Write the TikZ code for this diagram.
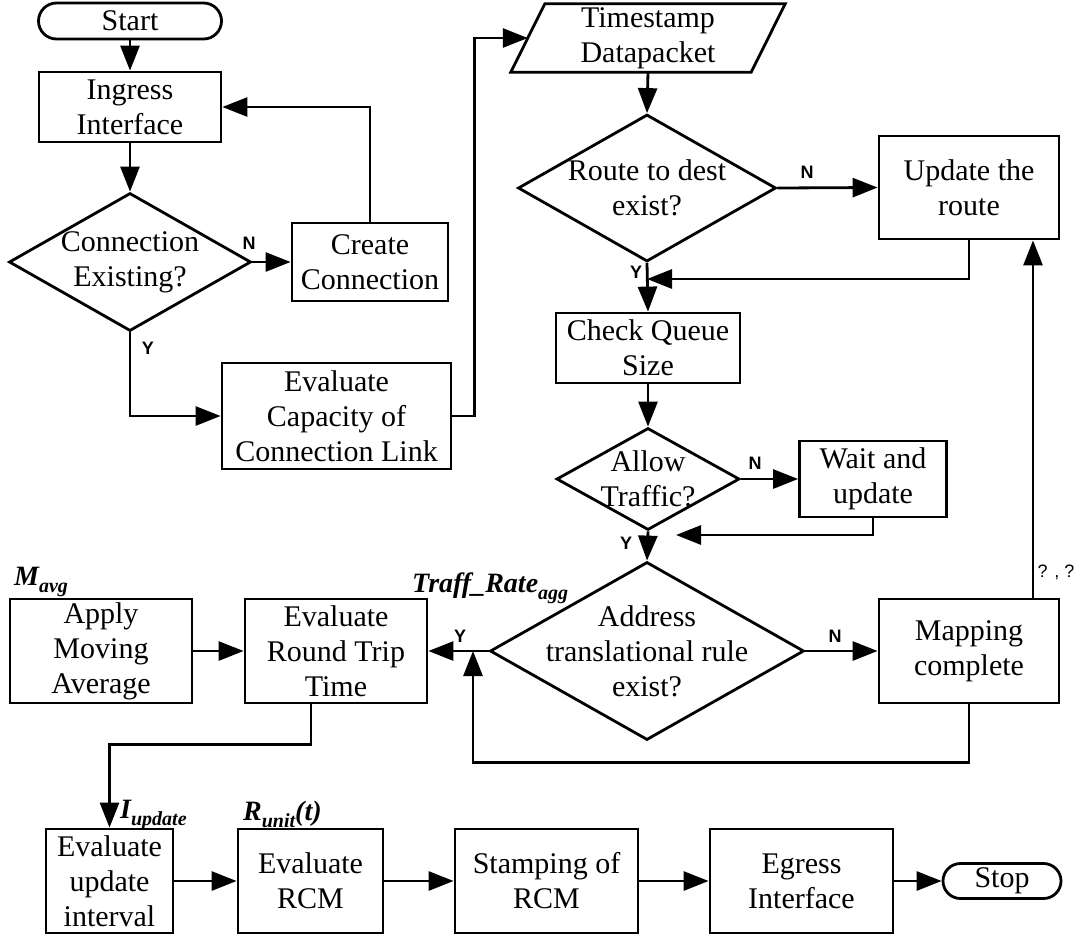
\documentclass[tikz,border=0pt]{standalone}
\usepackage{fontspec}
\setmainfont{Liberation Serif}
\newfontfamily\sansf{Liberation Sans}
\usetikzlibrary{shapes.geometric,arrows.meta}
\newcommand\mainfs{\fontsize{30}{35}\selectfont}
\newcommand\ynfs{\sansf\bfseries\fontsize{18}{19}\selectfont}
\newcommand\qfs{\sansf\fontsize{18}{19}\selectfont}
\newcommand\labfs{\bfseries\itshape\fontsize{28}{30}\selectfont}
\newcommand\sublab[1]{\raisebox{-0.25em}{\fontsize{20}{20}\selectfont #1}}
\tikzset{
  box/.style={draw, line width=2.8pt, rectangle, inner sep=0pt, align=center, font=\mainfs},
  dia/.style={draw, line width=2.8pt, diamond, inner sep=0pt},
  txt/.style={align=center, font=\mainfs, inner sep=0pt},
  arr/.style={line width=2.8pt, -{Triangle[length=25pt,width=19pt]}},
  ln/.style={line width=2.8pt},
  yn/.style={font=\ynfs, inner sep=0pt},
  lab/.style={font=\labfs, anchor=base west, inner sep=0pt}
}
\begin{document}
\begin{tikzpicture}[x=1pt, y=-1pt, line join=miter]
\useasboundingbox (0,0) rectangle (1082,938);
% left column
\node[box, minimum width=183pt, minimum height=36pt, rounded corners=18pt] (start) at (130,21) {Start};
\node[box, minimum width=182pt, minimum height=70pt] (ingress) at (130,107) {Ingress\\Interface};
\node[dia, minimum width=242pt, minimum height=138pt] (conn) at (130,262) {};
\node[txt] (conntxt) at (conn) {Connection\\Existing?};
\node[box, minimum width=156pt, minimum height=78pt] (create) at (370,262) {Create\\Connection};
\node[box, minimum width=229pt, minimum height=106pt] (evalcap) at (336.5,416) {Evaluate\\Capacity of\\Connection Link};
% right column
\node[minimum width=240pt, minimum height=68pt, inner sep=0pt] (ts) at (648,38) {};
\draw[ln] ([xshift=17pt]ts.north west) -- ([xshift=17pt]ts.north east) -- ([xshift=-17pt]ts.south east) -- ([xshift=-17pt]ts.south west) -- cycle;
\node[txt] (tstxt) at (ts) {Timestamp\\Datapacket};
\node[dia, minimum width=258pt, minimum height=147pt] (route) at (647,188) {};
\node[txt] (routetxt) at (route) {Route to dest\\exist?};
\node[box, minimum width=180pt, minimum height=103pt] (update) at (969,187.5) {Update the\\route};
\node[box, minimum width=184pt, minimum height=70pt] (check) at (648,348) {Check Queue\\Size};
\node[dia, minimum width=183pt, minimum height=102pt] (allow) at (648,479) {};
\node[txt] (allowtxt) at (allow) {Allow\\Traffic?};
\node[box, minimum width=147pt, minimum height=76pt] (wait) at (873,479) {Wait and\\update};
\node[dia, minimum width=314pt, minimum height=178pt] (addr) at (647,651) {};
\node[txt] (addrtxt) at (addr) {Address\\translational rule\\exist?};
\node[box, minimum width=180pt, minimum height=104pt] (map) at (969,651) {Mapping\\complete};
% middle row left
\node[box, minimum width=182pt, minimum height=104pt] (apply) at (101,651) {Apply\\Moving\\Average};
\node[box, minimum width=182pt, minimum height=104pt] (rtt) at (336,651) {Evaluate\\Round Trip\\Time};
% bottom row
\node[box, minimum width=127pt, minimum height=104pt] (evalint) at (109.5,881) {Evaluate\\update\\interval};
\node[box, minimum width=145pt, minimum height=104pt] (rcm) at (310.5,881) {Evaluate\\RCM};
\node[box, minimum width=183pt, minimum height=104pt] (stamp) at (546.5,881) {Stamping of\\RCM};
\node[box, minimum width=183pt, minimum height=104pt] (egress) at (801.5,881) {Egress\\Interface};
\node[box, minimum width=118pt, minimum height=35pt, rounded corners=17.5pt] (stop) at (1002,881) {Stop};
% junction coordinates
\coordinate (j1) at (647,279);
\coordinate (j2) at (676,535);
\coordinate (j3) at (473,651);
% connectors
\draw[arr] (start) -- (ingress);
\draw[arr] (ingress) -- (conn.north);
\draw[arr] (conn.east) -- (create.west);
\draw[arr] (create.north) |- (ingress.east);
\draw[arr] (conn.south) |- (evalcap.west);
\draw[arr] (evalcap.east) -- ++(22,0) |- (ts.west);
\draw[arr] (ts.south) -- (route.north);
\draw[arr] (route.east) -- (update.west);
\draw[arr] (update.south) |- (j1);
\draw[arr] (route.south) -- (check.north);
\draw[arr] (check.south) -- (allow.north);
\draw[arr] (allow.east) -- (wait.west);
\draw[arr] (wait.south) |- (j2);
\draw[arr] (allow.south) -- (addr.north);
\draw[arr] (addr.east) -- (map.west);
\draw[arr] ([xshift=64pt]map.north) -- ([xshift=64pt]update.south);
\draw[arr] (map.south) -- ++(0,58) -| (j3);
\draw[arr] (addr.west) -- (rtt.east);
\draw[arr] (apply.east) -- (rtt.west);
\draw[arr] ([xshift=-25pt]rtt.south) -- ++(0,40) -| (evalint.north);
\draw[arr] (evalint.east) -- (rcm.west);
\draw[arr] (rcm.east) -- (stamp.west);
\draw[arr] (stamp.east) -- (egress.west);
\draw[arr] (egress.east) -- (stop.west);
% Y/N labels
\node[yn] (n1) at (249,243) {N};
\node[yn] (y1) at (148,348) {Y};
\node[yn] (n2) at (807,172) {N};
\node[yn] (y2) at (636,272) {Y};
\node[yn] (n3) at (755,463) {N};
\node[yn] (y3) at (626,543) {Y};
\node[yn] (n4) at (835,636) {N};
\node[yn] (y4) at (460,636) {Y};
\node[font=\qfs, inner sep=0pt] (qq) at (1056,572) {? , ?};
% italic labels
\node[lab] (mavg) at (14,585) {M\sublab{avg}};
\node[lab] (traff) at (412,592) {Traff\_Rate\sublab{agg}};
\node[lab] (iupd) at (120,818) {I\sublab{update}};
\node[lab] (runit) at (243,820) {R\sublab{unit}(t)};
\end{tikzpicture}
\end{document}
